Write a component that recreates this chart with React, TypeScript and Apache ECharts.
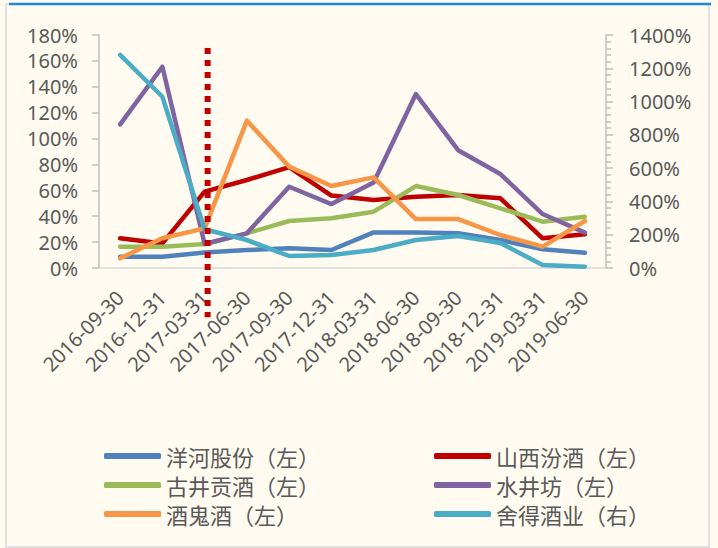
import React, { useEffect, useRef } from "react";
import * as echarts from "echarts";

const categories = [
  "2016-09-30", "2016-12-31", "2017-03-31", "2017-06-30", "2017-09-30", "2017-12-31",
  "2018-03-31", "2018-06-30", "2018-09-30", "2018-12-31", "2019-03-31", "2019-06-30",
];
const yanghe = [8.7, 8.7, 12, 13.9, 15.2, 13.9, 27.5, 27.5, 26.8, 21.6, 14.4, 11.8];
const fenjiu = [22.9, 19, 59, 68, 78, 56, 52.5, 55, 56.4, 53.8, 22.9, 26];
const gujing = [16.5, 16.5, 18.5, 26.8, 36.3, 38.4, 43.5, 63.3, 56.4, 46.1, 35.8, 39.6];
const shuijingfang = [111, 155.5, 18.5, 26.8, 62.8, 49.4, 66, 134.4, 91, 72.6, 41.7, 27.3];
const jiugui = [7.5, 23, 30.6, 113.8, 78.3, 63.3, 70, 37.8, 37.8, 25.5, 16.5, 36.3];
const shede = [1280, 1029, 233, 168, 72, 78, 108, 168, 192, 150, 18, 8];

const names = ["洋河股份（左）", "山西汾酒（左）", "古井贡酒（左）", "水井坊（左）", "酒鬼酒（左）", "舍得酒业（右）"];
const colors = ["#4F81BD", "#C00000", "#9BBB59", "#8064A2", "#F79646", "#4BACC6"];
const seriesData = [yanghe, fenjiu, gujing, shuijingfang, jiugui, shede];
const seriesAxis = [0, 0, 0, 0, 0, 1];
const markerCategory = "2017-03-31";

const labelFont = "'Noto Sans', sans-serif";
const cjkFont = "'Noto Sans CJK SC', sans-serif";
const pct = (v: number) => `${v}%`;

export default function App() {
  const ref = useRef<HTMLDivElement>(null);
  useEffect(() => {
    if (!ref.current) return;
    const chart = echarts.init(ref.current, null, { renderer: "svg" });
    const legendText = { color: "#595959", fontSize: 22, fontFamily: cjkFont, lineHeight: 24 };
    chart.setOption({
      animation: false,
      backgroundColor: "#FFFBF0",
      color: colors,
      grid: { left: 99, right: 112, top: 35, bottom: 280, containLabel: false },
      legend: [
        {
          orient: "vertical", left: 99, top: 439, itemGap: 5, itemWidth: 57, itemHeight: 6,
          icon: "roundRect", textStyle: legendText, data: [names[0], names[2], names[4]],
        },
        {
          orient: "vertical", left: 429, top: 439, itemGap: 5, itemWidth: 57, itemHeight: 6,
          icon: "roundRect", textStyle: legendText, data: [names[1], names[3], names[5]],
        },
      ],
      xAxis: {
        type: "category",
        data: categories,
        boundaryGap: true,
        axisLine: { lineStyle: { color: "#D9D9D9", width: 1.5 } },
        axisTick: { show: false },
        axisLabel: { rotate: 45, margin: 26, color: "#595959", fontSize: 20, fontFamily: labelFont, interval: 0 },
        splitLine: { show: false },
      },
      yAxis: [
        {
          type: "value", min: 0, max: 180, interval: 20, position: "left",
          axisLine: { show: true, lineStyle: { color: "#BFBFBF", width: 1.5 } },
          axisTick: { show: true, length: 7, lineStyle: { color: "#BFBFBF", width: 1.5 } },
          axisLabel: { formatter: pct, margin: 21, color: "#595959", fontSize: 20, fontFamily: labelFont },
          splitLine: { show: false },
        },
        {
          type: "value", min: 0, max: 1400, interval: 200, position: "right",
          axisLine: { show: true, lineStyle: { color: "#BFBFBF", width: 1.5 } },
          axisTick: { show: true, length: 7, lineStyle: { color: "#BFBFBF", width: 1.5 } },
          minorTick: { show: true, splitNumber: 5, length: 5, lineStyle: { color: "#BFBFBF", width: 1.5 } },
          axisLabel: { formatter: pct, margin: 23, color: "#595959", fontSize: 20, fontFamily: labelFont },
          splitLine: { show: false },
        },
      ],
      series: seriesData.map((d, i) => ({
        name: names[i],
        type: "line",
        yAxisIndex: seriesAxis[i],
        data: d,
        showSymbol: false,
        symbol: "none",
        lineStyle: { width: 4.5, color: colors[i], cap: "round", join: "round" },
        itemStyle: { color: colors[i] },
        z: 2 + i,
      })),
    });
    const x = (chart.convertToPixel({ xAxisIndex: 0 }, markerCategory) as number) + 3;
    const yTop = chart.convertToPixel({ yAxisIndex: 0 }, 170) as number;
    const yBot = chart.convertToPixel({ yAxisIndex: 0 }, -38) as number;
    chart.setOption({
      graphic: [
        {
          type: "rect", z: -1, silent: true,
          shape: { x: 6, y: 4, width: 703, height: 543 },
          style: { fill: "none", stroke: "#D9D9D9", lineWidth: 1.5 },
        },
        {
          type: "line", z: 1, silent: true,
          shape: { x1: 9, y1: 4, x2: 711, y2: 4 },
          style: { stroke: "#1B8AD8", lineWidth: 2.5 },
        },
        {
          type: "line", z: 100, silent: true,
          shape: { x1: x, y1: yTop, x2: x, y2: yBot },
          style: { stroke: "#C00000", lineWidth: 6, lineDash: [6, 6] },
        },
      ],
    });
    return () => chart.dispose();
  }, []);
  return <div ref={ref} style={{ position: "fixed", left: 0, top: 0, width: 718, height: 548 }} />;
}
